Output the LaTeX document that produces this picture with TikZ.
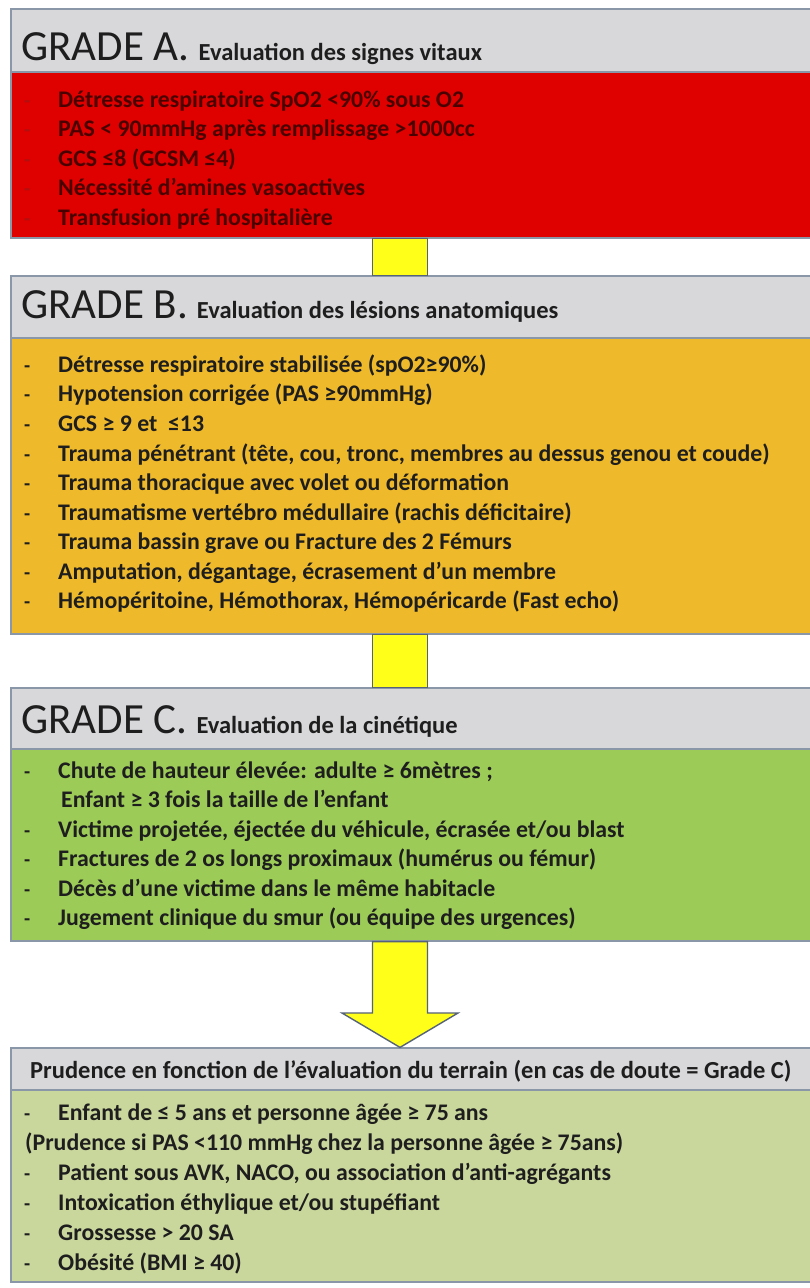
\documentclass[tikz,border=0pt]{standalone}
\usepackage{fontspec}
\setmainfont{Carlito}
\usetikzlibrary{calc}
\definecolor{hdrgray}{HTML}{D8D8DB}
\definecolor{frameblue}{HTML}{8A97A8}
\definecolor{gradeared}{HTML}{DF0000}
\definecolor{gradebamber}{HTML}{EFB92C}
\definecolor{gradecgreen}{HTML}{9CCB58}
\definecolor{terrgreen}{HTML}{C9D79C}
\definecolor{connyellow}{HTML}{FFFF1A}
\definecolor{connedge}{HTML}{55627A}
\definecolor{redtxt}{HTML}{4A0000}
\definecolor{reddash}{HTML}{B01010}
\definecolor{darktxt}{HTML}{1E1E1E}
\tikzset{
  box/.style={draw=frameblue, line width=1.2pt, minimum width=805pt, inner sep=0pt},
  hdr/.style={box, fill=hdrgray},
  conn/.style={fill=connyellow, draw=connedge, line width=1.4pt, line join=miter},
  titletext/.style={anchor=base west, inner sep=0pt, text=darktxt},
  item/.style={anchor=base west, inner sep=0pt, text=darktxt,
    font=\bfseries\fontsize{23.8}{23.8}\selectfont},
  bulletdash/.style={item, font=\bfseries\fontsize{20}{20}\selectfont}
}
\newcommand{\gradetitle}[2]{{\fontsize{43}{43}\selectfont #1}\hspace{9pt}{\bfseries\fontsize{24.5}{24.5}\selectfont #2}}
\begin{document}
\begin{tikzpicture}[x=1pt,y=-1pt]
  \useasboundingbox (0,0) rectangle (810,1288);
  \clip (0,0) rectangle (810,1288);
  \fill[white] (0,0) rectangle (810,1288);
  % axis of the connectors
  \coordinate (axis) at (400,0);
  \coordinate (axL) at (372.5,0);
  \coordinate (axR) at (427.5,0);
  \coordinate (headL) at (342,1013);
  \coordinate (headR) at (458,1013);

  % boxes
  \node[hdr, minimum height=63pt] (hdrA) at (413.5,40.5) {};
  \node[box, fill=gradeared, minimum height=166pt] (redbox) at (413.5,155) {};
  \node[hdr, minimum height=62pt] (hdrB) at (413.5,307) {};
  \node[box, fill=gradebamber, minimum height=296pt] (amberbox) at (413.5,486) {};
  \node[hdr, minimum height=61pt] (hdrC) at (413.5,718.5) {};
  \node[box, fill=gradecgreen, minimum height=192pt] (greenbox) at (413.5,845) {};
  \node[hdr, minimum height=42pt] (hdrP) at (413.5,1069) {};
  \node[box, fill=terrgreen, minimum height=192pt] (terrbox) at (413.5,1186) {};

  % connectors
  \draw[conn] (axL |- redbox.south) rectangle (axR |- hdrB.north);
  \draw[conn] (axL |- amberbox.south) rectangle (axR |- hdrC.north);
  \draw[conn] (axL |- greenbox.south) -- (axL |- headL) -- (headL) -- (axis |- hdrP.north)
    -- (headR) -- (axR |- headR) -- (axR |- greenbox.south) -- cycle;

  % grade A
  \node[titletext] (tA) at (21,60) {\gradetitle{GRADE A.}{Evaluation des signes vitaux}};
  \node[bulletdash, text=reddash] (dA1) at (24,107) {-};
  \node[bulletdash, text=reddash] (dA2) at (24,136.5) {-};
  \node[bulletdash, text=reddash] (dA3) at (24,166) {-};
  \node[bulletdash, text=reddash] (dA4) at (24,195.5) {-};
  \node[bulletdash, text=reddash] (dA5) at (24,225) {-};
  \node[item, text=redtxt] (a1) at (58,107) {Détresse respiratoire SpO2 <90\% sous O2};
  \node[item, text=redtxt] (a2) at (58,136.5) {PAS < 90mmHg après remplissage >1000cc};
  \node[item, text=redtxt] (a3) at (58,166) {GCS ≤8 (GCSM ≤4)};
  \node[item, text=redtxt] (a4) at (58,195.5) {Nécessité d’amines vasoactives};
  \node[item, text=redtxt] (a5) at (58,225) {Transfusion pré hospitalière};

  % grade B
  \node[titletext] (tB) at (21,318) {\gradetitle{GRADE B.}{Evaluation des lésions anatomiques}};
  \node[bulletdash] (dB1) at (24,372) {-};
  \node[bulletdash] (dB2) at (24,401.5) {-};
  \node[bulletdash] (dB3) at (24,431) {-};
  \node[bulletdash] (dB4) at (24,461) {-};
  \node[bulletdash] (dB5) at (24,490) {-};
  \node[bulletdash] (dB6) at (24,520) {-};
  \node[bulletdash] (dB7) at (24,549) {-};
  \node[bulletdash] (dB8) at (24,579) {-};
  \node[bulletdash] (dB9) at (24,608) {-};
  \node[item] (b1) at (58,372) {Détresse respiratoire stabilisée (spO2≥90\%)};
  \node[item] (b2) at (58,401.5) {Hypotension corrigée (PAS ≥90mmHg)};
  \node[item] (b3) at (58,431) {GCS ≥ 9 et \ ≤13};
  \node[item] (b4) at (58,461) {Trauma pénétrant (tête, cou, tronc, membres au dessus genou et coude)};
  \node[item] (b5) at (58,490) {Trauma thoracique avec volet ou déformation};
  \node[item] (b6) at (58,520) {Traumatisme vertébro médullaire (rachis déficitaire)};
  \node[item] (b7) at (58,549) {Trauma bassin grave ou Fracture des 2 Fémurs};
  \node[item] (b8) at (58,579) {Amputation, dégantage, écrasement d’un membre};
  \node[item] (b9) at (58,608) {Hémopéritoine, Hémothorax, Hémopéricarde (Fast echo)};

  % grade C
  \node[titletext] (tC) at (21,733) {\gradetitle{GRADE C.}{Evaluation de la cinétique}};
  \node[bulletdash] (dC1) at (24,778) {-};
  \node[bulletdash] (dC3) at (24,837) {-};
  \node[bulletdash] (dC4) at (24,866) {-};
  \node[bulletdash] (dC5) at (24,896) {-};
  \node[bulletdash] (dC6) at (24,925) {-};
  \node[item] (c1) at (58,778) {Chute de hauteur élevée: adulte ≥ 6mètres ;};
  \node[item] (c2) at (61,807.5) {Enfant ≥ 3 fois la taille de l’enfant};
  \node[item] (c3) at (58,837) {Victime projetée, éjectée du véhicule, écrasée et/ou blast};
  \node[item] (c4) at (58,866) {Fractures de 2 os longs proximaux (humérus ou fémur)};
  \node[item] (c5) at (58,896) {Décès d’une victime dans le même habitacle};
  \node[item] (c6) at (58,925) {Jugement clinique du smur (ou équipe des urgences)};

  % terrain
  \node[item, font=\bfseries\fontsize{24.5}{24.5}\selectfont] (tP) at (30,1078)
    {Prudence en fonction de l’évaluation du terrain (en cas de doute = Grade C)};
  \node[bulletdash] (dP1) at (24,1120) {-};
  \node[bulletdash] (dP3) at (24,1180) {-};
  \node[bulletdash] (dP4) at (24,1210) {-};
  \node[bulletdash] (dP5) at (24,1240) {-};
  \node[bulletdash] (dP6) at (24,1270) {-};
  \node[item] (p1) at (58,1120) {Enfant de ≤ 5 ans et personne âgée ≥ 75 ans};
  \node[item] (p2) at (25,1150) {(Prudence si PAS <110 mmHg chez la personne âgée ≥ 75ans)};
  \node[item] (p3) at (58,1180) {Patient sous AVK, NACO, ou association d’anti-agrégants};
  \node[item] (p4) at (58,1210) {Intoxication éthylique et/ou stupéfiant};
  \node[item] (p5) at (58,1240) {Grossesse > 20 SA};
  \node[item] (p6) at (58,1270) {Obésité (BMI ≥ 40)};
\end{tikzpicture}
\end{document}
